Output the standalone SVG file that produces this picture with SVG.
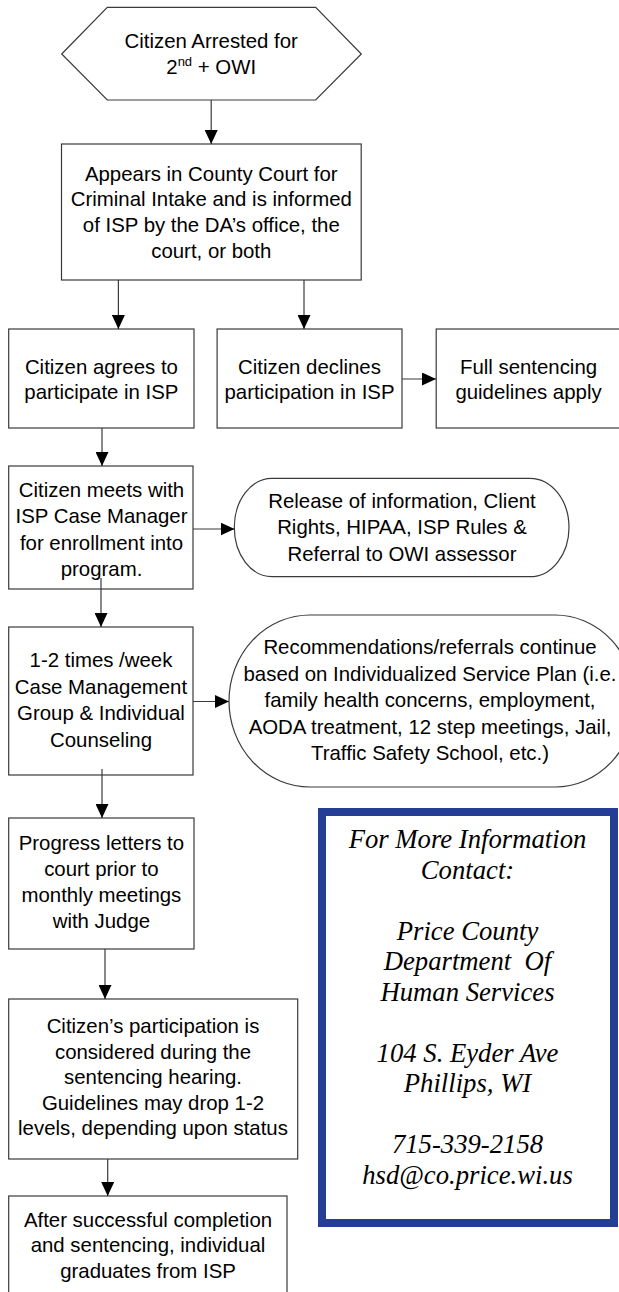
<svg xmlns="http://www.w3.org/2000/svg" width="619" height="1292" viewBox="0 0 619 1292">
<style>
.b{fill:#fff;stroke:#3a3a3a;stroke-width:1.2}
.c{fill:none;stroke:#3a3a3a;stroke-width:1.2}
.t{font-family:"Liberation Sans",Arial,sans-serif;font-size:20.4px;text-anchor:middle;fill:#000}
.s{font-family:"Liberation Serif","Times New Roman",serif;font-style:italic;font-size:26.7px;text-anchor:middle;fill:#000}
</style>
<defs>
<marker id="ah" markerUnits="userSpaceOnUse" markerWidth="14" markerHeight="13" refX="14" refY="6.5" orient="auto">
<path d="M0,0 L14,6.5 L0,13 Z" fill="#000"/>
</marker>
</defs>
<rect width="619" height="1292" fill="#fff"/>
<g id="n1">
<polygon class="b" points="61.7,54 107.3,7.3 315.7,7.3 361.3,54 315.7,100 107.3,100"/>
<text class="t" x="211.2" y="48.3">Citizen Arrested for</text>
<text class="t" x="211.2" y="74">2<tspan font-size="13" dy="-8">nd</tspan><tspan dy="8"> + OWI</tspan></text>
</g>
<g id="n2">
<rect class="b" x="61.5" y="144" width="299.7" height="136"/>
<text class="t" x="211.3" y="180.5">Appears in County Court for</text>
<text class="t" x="211.3" y="206.2">Criminal Intake and is informed</text>
<text class="t" x="211.3" y="232">of ISP by the DA’s office, the</text>
<text class="t" x="211.3" y="257.7">court, or both</text>
</g>
<g id="n3">
<rect class="b" x="8.7" y="329" width="185.3" height="99"/>
<text class="t" x="101.4" y="373.8">Citizen agrees to</text>
<text class="t" x="101.4" y="399.3">participate in ISP</text>
</g>
<g id="n4">
<rect class="b" x="217.1" y="329" width="184.9" height="99"/>
<text class="t" x="309.5" y="373.8">Citizen declines</text>
<text class="t" x="309.5" y="399.3">participation in ISP</text>
</g>
<g id="n5">
<rect class="b" x="436.2" y="329" width="185" height="99"/>
<text class="t" x="528.5" y="373.8">Full sentencing</text>
<text class="t" x="528.5" y="399.3">guidelines apply</text>
</g>
<g id="n6">
<rect class="b" x="8.7" y="466" width="184.3" height="123"/>
<text class="t" x="101.5" y="496.5">Citizen meets with</text>
<text class="t" x="101.5" y="523">ISP Case Manager</text>
<text class="t" x="101.5" y="549.5">for enrollment into</text>
<text class="t" x="101.5" y="575.5">program.</text>
</g>
<g id="n7">
<path class="b" d="M272,478.3 H530 A39,49.2 0 0 1 530,576.7 H272 A37.7,49.2 0 0 1 272,478.3 Z"/>
<text class="t" x="402" y="507.5">Release of information, Client</text>
<text class="t" x="402" y="534">Rights, HIPAA, ISP Rules &amp;</text>
<text class="t" x="402" y="560.5">Referral to OWI assessor</text>
</g>
<g id="n8">
<rect class="b" x="8.7" y="627" width="184.3" height="148"/>
<text class="t" x="101" y="667">1-2 times /week</text>
<text class="t" x="101" y="693.5">Case Management</text>
<text class="t" x="101" y="720">Group &amp; Individual</text>
<text class="t" x="101" y="746.5">Counseling</text>
</g>
<g id="n9">
<path class="b" d="M310,615 H555 A80,86 0 0 1 555,787 H310 A81,86 0 0 1 310,615 Z"/>
<text class="t" x="430" y="654">Recommendations/referrals continue</text>
<text class="t" x="430" y="680.5">based on Individualized Service Plan (i.e.</text>
<text class="t" x="430" y="707">family health concerns, employment,</text>
<text class="t" x="430" y="733.5">AODA treatment, 12 step meetings, Jail,</text>
<text class="t" x="430" y="760">Traffic Safety School, etc.)</text>
</g>
<g id="n10">
<rect class="b" x="8.7" y="818" width="185.3" height="131"/>
<text class="t" x="101.4" y="849.5">Progress letters to</text>
<text class="t" x="101.4" y="876">court prior to</text>
<text class="t" x="101.4" y="902">monthly meetings</text>
<text class="t" x="101.4" y="928">with Judge</text>
</g>
<g id="n11">
<rect class="b" x="8.7" y="999" width="289" height="160"/>
<text class="t" x="153" y="1033">Citizen’s participation is</text>
<text class="t" x="153" y="1058.5">considered during the</text>
<text class="t" x="153" y="1084">sentencing hearing.</text>
<text class="t" x="153" y="1109.5">Guidelines may drop 1-2</text>
<text class="t" x="153" y="1135">levels, depending upon status</text>
</g>
<g id="n12">
<rect class="b" x="8.7" y="1196" width="278.3" height="120"/>
<text class="t" x="148" y="1226.5">After successful completion</text>
<text class="t" x="148" y="1252">and sentencing, individual</text>
<text class="t" x="148" y="1277.5">graduates from ISP</text>
</g>
<g id="contact">
<rect x="322" y="812" width="292" height="411" fill="#fff" stroke="#253e95" stroke-width="8"/>
<text class="s" x="467.5" y="848">For More Information</text>
<text class="s" x="467.5" y="878.5">Contact:</text>
<text class="s" x="467.5" y="939.5">Price County</text>
<text class="s" x="467.5" y="970">Department&#160; Of</text>
<text class="s" x="467.5" y="1000.5">Human Services</text>
<text class="s" x="467.5" y="1061.5">104 S. Eyder Ave</text>
<text class="s" x="467.5" y="1092">Phillips, WI</text>
<text class="s" x="467.5" y="1153">715-339-2158</text>
<text class="s" x="467.5" y="1183.5">hsd@co.price.wi.us</text>
</g>
<g id="connectors">
<line class="c" x1="211.2" y1="100" x2="211.2" y2="144" marker-end="url(#ah)"/>
<line class="c" x1="118.4" y1="280" x2="118.4" y2="329" marker-end="url(#ah)"/>
<line class="c" x1="304" y1="280" x2="304" y2="329" marker-end="url(#ah)"/>
<line class="c" x1="402" y1="379" x2="436" y2="379" marker-end="url(#ah)"/>
<line class="c" x1="102" y1="428" x2="102" y2="466" marker-end="url(#ah)"/>
<line class="c" x1="193" y1="529" x2="234.5" y2="529" marker-end="url(#ah)"/>
<line class="c" x1="101" y1="578" x2="101" y2="627" marker-end="url(#ah)"/>
<line class="c" x1="193" y1="701.5" x2="229" y2="701.5" marker-end="url(#ah)"/>
<line class="c" x1="102" y1="769" x2="102" y2="818" marker-end="url(#ah)"/>
<line class="c" x1="105" y1="949" x2="105" y2="999" marker-end="url(#ah)"/>
<line class="c" x1="107.7" y1="1159" x2="107.7" y2="1196" marker-end="url(#ah)"/>
</g>
</svg>
